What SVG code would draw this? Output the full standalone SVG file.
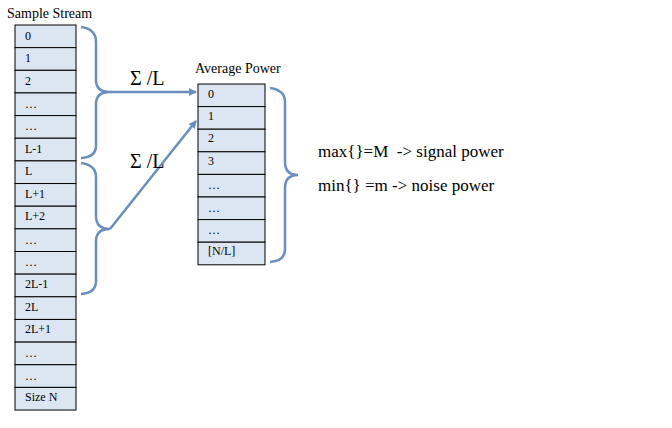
<svg xmlns="http://www.w3.org/2000/svg" width="672" height="428" viewBox="0 0 672 428">
<style>
.c rect{fill:#dce6f2;stroke:#000;stroke-width:1}
.c text{font-family:"Liberation Serif","Times New Roman",serif;font-size:12px;fill:#000}
.b{fill:none;stroke:#6a8fbf;stroke-width:2.5}
.t{font-family:"Liberation Serif","Times New Roman",serif;fill:#000}
</style>
<defs><marker id="a" markerWidth="8" markerHeight="8" refX="7" refY="4" orient="auto" markerUnits="userSpaceOnUse"><path d="M0,0L8,4L0,8z" fill="#6a8fbf"/></marker></defs>
<rect width="672" height="428" fill="#fff"/>
<text class="t" x="7" y="18" font-size="14">Sample Stream</text>
<g id="stream" class="c">
<rect x="15" y="25" width="61" height="22.65"/><text x="25" y="40">0</text>
<rect x="15" y="47.65" width="61" height="22.65"/><text x="25" y="62">1</text>
<rect x="15" y="70.3" width="61" height="22.65"/><text x="25" y="85">2</text>
<rect x="15" y="92.95" width="61" height="22.65"/><text x="25" y="108">…</text>
<rect x="15" y="115.6" width="61" height="22.65"/><text x="25" y="130">…</text>
<rect x="15" y="138.25" width="61" height="22.65"/><text x="25" y="153">L-1</text>
<rect x="15" y="160.9" width="61" height="22.65"/><text x="25" y="175">L</text>
<rect x="15" y="183.55" width="61" height="22.65"/><text x="25" y="198">L+1</text>
<rect x="15" y="206.2" width="61" height="22.65"/><text x="25" y="220">L+2</text>
<rect x="15" y="228.85" width="61" height="22.65"/><text x="25" y="244">…</text>
<rect x="15" y="251.5" width="61" height="22.65"/><text x="25" y="266">…</text>
<rect x="15" y="274.15" width="61" height="22.65"/><text x="25" y="288">2L-1</text>
<rect x="15" y="296.8" width="61" height="22.65"/><text x="25" y="311">2L</text>
<rect x="15" y="319.45" width="61" height="22.65"/><text x="25" y="333">2L+1</text>
<rect x="15" y="342.1" width="61" height="22.65"/><text x="25" y="357">…</text>
<rect x="15" y="364.75" width="61" height="22.65"/><text x="25" y="380">…</text>
<rect x="15" y="387.4" width="61" height="22.65"/><text x="25" y="401">Size N</text>
</g>
<text class="t" x="195" y="73" font-size="14">Average Power</text>
<g id="avg" class="c">
<rect x="198" y="84" width="67" height="22.6"/><text x="208" y="98">0</text>
<rect x="198" y="106.6" width="67" height="22.6"/><text x="208" y="120">1</text>
<rect x="198" y="129.2" width="67" height="22.6"/><text x="208" y="142">2</text>
<rect x="198" y="151.8" width="67" height="22.6"/><text x="208" y="165">3</text>
<rect x="198" y="174.4" width="67" height="22.6"/><text x="208" y="189">…</text>
<rect x="198" y="197" width="67" height="22.6"/><text x="208" y="212">…</text>
<rect x="198" y="219.6" width="67" height="22.6"/><text x="208" y="234">…</text>
<rect x="198" y="242.2" width="67" height="22.6"/><text x="208" y="255">[N/L]</text>
</g>
<g id="connectors">
<path class="b" d="M81,27 Q96,29 96,42 V80 Q96,92 110,92 Q96,92 96,104 V146 Q96,157 81,158"/>
<path class="b" d="M81,163 Q96,165 96,177 V216 Q96,229 110,229 Q96,229 96,241 V281 Q96,293 81,294"/>
<path class="b" d="M270,88 Q285,90 285,102 V162 Q285,175 298,175 Q285,175 285,188 V249 Q285,261 270,262"/>
<path class="b" d="M110,92 H196" marker-end="url(#a)"/>
<path class="b" d="M110,229 L196,121" marker-end="url(#a)"/>
</g>
<text class="t" x="130" y="85" font-size="20">Σ /L</text>
<text class="t" x="130" y="168" font-size="20">Σ /L</text>
<text class="t" x="318" y="157" font-size="17" xml:space="preserve">max{}=M  -&gt; signal power</text>
<text class="t" x="318" y="191" font-size="17">min{} =m -&gt; noise power</text>
</svg>
